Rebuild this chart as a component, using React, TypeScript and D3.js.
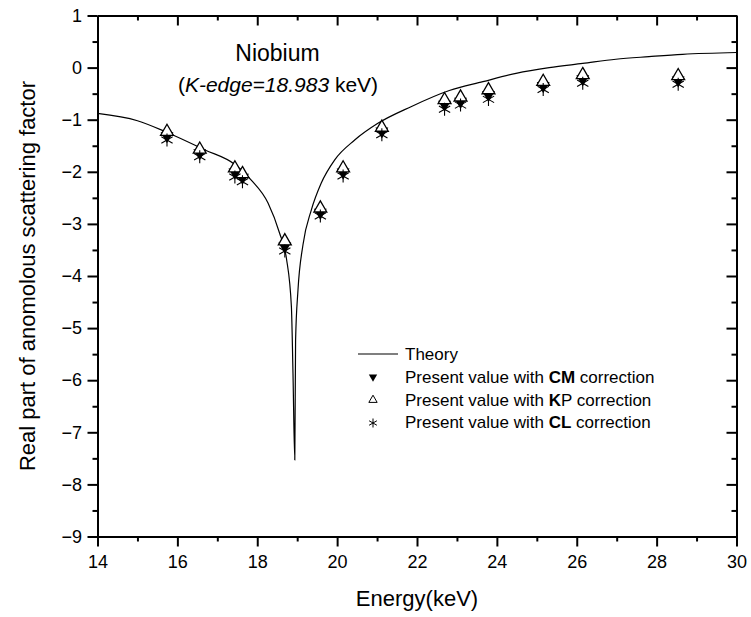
import React, { useEffect, useRef } from "react";
import * as d3 from "d3";

// ---------- data ----------
const xTicks = [14, 16, 18, 20, 22, 24, 26, 28, 30];
const yTicks = [1, 0, -1, -2, -3, -4, -5, -6, -7, -8, -9];

const energies = [15.74, 16.56, 17.44, 17.63, 18.69, 19.58, 20.15, 21.12, 22.69, 23.09, 23.79, 25.16, 26.15, 28.54];
const kpValues = [-1.23, -1.57, -1.93, -2.04, -3.33, -2.70, -1.93, -1.15, -0.62, -0.57, -0.43, -0.27, -0.14, -0.16];
const cmValues = [-1.31, -1.64, -2.01, -2.11, -3.43, -2.78, -2.01, -1.22, -0.71, -0.65, -0.52, -0.35, -0.22, -0.24];
const clValues = [-1.39, -1.71, -2.10, -2.19, -3.52, -2.85, -2.08, -1.29, -0.80, -0.72, -0.61, -0.42, -0.30, -0.32];

const theoryE = [14.0, 15.0, 15.73, 16.69, 17.44, 17.85, 18.27, 18.56, 18.73, 18.855, 18.895, 18.94, 18.96, 19.02, 19.145, 19.355, 19.6, 19.94, 20.44, 21.02, 21.85, 22.81, 23.65, 24.48, 25.31, 26.15, 26.98, 27.81, 28.65, 30.0];
const theoryV = [-0.88, -1.02, -1.24, -1.58, -1.86, -2.16, -2.6, -3.18, -3.66, -4.59, -5.87, -7.53, -5.23, -4.27, -3.4, -2.73, -2.22, -1.77, -1.39, -1.07, -0.75, -0.44, -0.27, -0.11, 0.0, 0.08, 0.16, 0.21, 0.255, 0.29];

const legendLabels = [
  { pre: "Present value with ", bold: "CM", post: " correction" },
  { pre: "Present value with ", bold: "K", post: "P correction" },
  { pre: "Present value with ", bold: "CL", post: " correction" },
];

// ---------- layout ----------
const W = 751, H = 617;
const X0 = 97.5, X1 = 736.5, Y0 = 15.5, Y1 = 536.5;
const FONT = "Arial, 'Liberation Sans', Helvetica, sans-serif";

function asterisk(r: number) {
  const c = r * Math.cos(Math.PI / 6);
  const s = r * Math.sin(Math.PI / 6);
  return `M0,${-r}L0,${r}M${-c},${-s}L${c},${s}M${-c},${s}L${c},${-s}`;
}

export default function App() {
  const ref = useRef<SVGSVGElement | null>(null);

  useEffect(() => {
    const svg = d3.select(ref.current as SVGSVGElement);
    svg.selectAll("*").remove();

    const x = d3.scaleLinear().domain([14, 30]).range([X0, X1]);
    const y = d3.scaleLinear().domain([-9, 1]).range([Y1, Y0]);
    const xMinor = xTicks.slice(0, -1).map((t) => t + 1);
    const yMinor = yTicks.slice(0, -1).map((t) => t - 0.5);

    // theory curve
    const line = d3
      .line<number>()
      .x((_, i) => x(theoryE[i]))
      .y((v) => y(v))
      .curve(d3.curveMonotoneX);
    svg.append("path").attr("d", line(theoryV) || "").attr("fill", "none").attr("stroke", "black").attr("stroke-width", 1.2);

    const triBig = d3.symbol().type(d3.symbolTriangle).size(72)() as string;
    const triSmall = d3.symbol().type(d3.symbolTriangle).size(30)() as string;

    const marks = svg.append("g");
    marks.selectAll("path.cm").data(energies).join("path").attr("class", "cm")
      .attr("d", triBig)
      .attr("transform", (e, i) => `translate(${x(e)},${y(cmValues[i])}) rotate(180)`)
      .attr("fill", "black");
    marks.selectAll("path.kp").data(energies).join("path").attr("class", "kp")
      .attr("d", triBig)
      .attr("transform", (e, i) => `translate(${x(e)},${y(kpValues[i])})`)
      .attr("fill", "white").attr("stroke", "black").attr("stroke-width", 1.3);
    marks.selectAll("path.cl").data(energies).join("path").attr("class", "cl")
      .attr("d", asterisk(6.5))
      .attr("transform", (e, i) => `translate(${x(e)},${y(clValues[i])})`)
      .attr("fill", "none").attr("stroke", "black").attr("stroke-width", 1.1);

    // axes
    const style = (g: d3.Selection<SVGGElement, unknown, null, undefined>) => {
      g.select(".domain").attr("stroke", "black").attr("stroke-width", 2);
      g.selectAll(".tick line").attr("stroke", "black").attr("stroke-width", 2);
      g.selectAll(".tick text").attr("font-size", 18).attr("font-family", FONT).attr("fill", "black");
      g.attr("font-family", FONT);
    };

    const gb = svg.append("g").attr("transform", `translate(0,${Y1})`)
      .call(d3.axisBottom(x).tickValues(xTicks).tickSize(10).tickSizeOuter(0).tickPadding(8.7).tickFormat(d3.format("d")));
    style(gb);
    const gbm = svg.append("g").attr("transform", `translate(0,${Y1})`)
      .call(d3.axisBottom(x).tickValues(xMinor).tickSize(5).tickSizeOuter(0).tickFormat(() => ""));
    style(gbm);

    const gt = svg.append("g").attr("transform", `translate(0,${Y0})`)
      .call(d3.axisTop(x).tickValues(xTicks).tickSize(-10).tickSizeOuter(0).tickFormat(() => ""));
    style(gt);
    const gtm = svg.append("g").attr("transform", `translate(0,${Y0})`)
      .call(d3.axisTop(x).tickValues(xMinor).tickSize(-5).tickSizeOuter(0).tickFormat(() => ""));
    style(gtm);

    const gl = svg.append("g").attr("transform", `translate(${X0},0)`)
      .call(d3.axisLeft(y).tickValues(yTicks).tickSize(10).tickSizeOuter(0).tickPadding(5.5).tickFormat(d3.format("d")));
    style(gl);
    const glm = svg.append("g").attr("transform", `translate(${X0},0)`)
      .call(d3.axisLeft(y).tickValues(yMinor).tickSize(5).tickSizeOuter(0).tickFormat(() => ""));
    style(glm);

    const gr = svg.append("g").attr("transform", `translate(${X1},0)`)
      .call(d3.axisRight(y).tickValues(yTicks).tickSize(-10).tickSizeOuter(0).tickFormat(() => ""));
    style(gr);
    const grm = svg.append("g").attr("transform", `translate(${X1},0)`)
      .call(d3.axisRight(y).tickValues(yMinor).tickSize(-5).tickSizeOuter(0).tickFormat(() => ""));
    style(grm);

    // titles
    svg.append("text").attr("x", 417).attr("y", 606).attr("text-anchor", "middle")
      .attr("font-size", 22).attr("font-family", FONT).text("Energy(keV)");
    svg.append("text").attr("transform", "translate(35,276) rotate(-90)").attr("text-anchor", "middle")
      .attr("font-size", 22).attr("font-family", FONT).text("Real part of anomolous scattering factor");

    svg.append("text").attr("x", 277.5).attr("y", 61).attr("text-anchor", "middle")
      .attr("font-size", 23).attr("font-family", FONT).text("Niobium");
    const k = svg.append("text").attr("x", 278).attr("y", 92).attr("text-anchor", "middle")
      .attr("font-size", 21).attr("font-family", FONT);
    k.append("tspan").text("(");
    k.append("tspan").attr("font-style", "italic").text("K-edge=18.983");
    k.append("tspan").text(" keV)");

    // legend
    const lg = svg.append("g").attr("font-family", FONT).attr("font-size", 17);
    lg.append("line").attr("x1", 358).attr("x2", 398).attr("y1", 354).attr("y2", 354)
      .attr("stroke", "black").attr("stroke-width", 1.2);
    lg.append("text").attr("x", 405).attr("y", 360).text("Theory");
    lg.append("path").attr("d", triSmall).attr("transform", "translate(373,377) rotate(180)").attr("fill", "black");
    lg.append("path").attr("d", triSmall).attr("transform", "translate(373,400)")
      .attr("fill", "white").attr("stroke", "black").attr("stroke-width", 1);
    lg.append("path").attr("d", asterisk(4.5)).attr("transform", "translate(373,423)")
      .attr("fill", "none").attr("stroke", "black").attr("stroke-width", 1);
    legendLabels.forEach((l, i) => {
      const t = lg.append("text").attr("x", 405).attr("y", 383 + i * 22.5);
      t.append("tspan").text(l.pre);
      t.append("tspan").attr("font-weight", "bold").text(l.bold);
      t.append("tspan").text(l.post);
    });
  }, []);

  return (
    <div style={{ position: "absolute", left: 0, top: 0, width: W, height: H, background: "#fff" }}>
      <svg ref={ref} width={W} height={H} style={{ display: "block" }} />
    </div>
  );
}
